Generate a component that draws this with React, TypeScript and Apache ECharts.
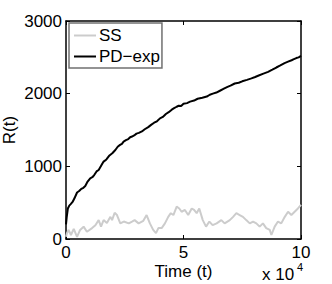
import React, { useEffect, useRef } from "react";
import * as echarts from "echarts";

const tSS = [0, 0.04, 0.11, 0.21, 0.33, 0.47, 0.6, 0.75, 0.89, 1.11, 1.25, 1.39, 1.49, 1.6, 1.74, 1.89, 1.96, 2.07, 2.17, 2.31, 2.46, 2.67, 2.81, 2.92, 3.09, 3.29, 3.43, 3.57, 3.71, 3.83, 3.93, 4.07, 4.21, 4.35, 4.46, 4.57, 4.71, 4.82, 4.92, 5.06, 5.2, 5.35, 5.45, 5.56, 5.67, 5.82, 5.96, 6.1, 6.24, 6.41, 6.61, 6.75, 6.97, 7.11, 7.25, 7.39, 7.53, 7.67, 7.82, 7.96, 8.1, 8.24, 8.38, 8.52, 8.67, 8.74, 8.88, 9.02, 9.16, 9.31, 9.45, 9.59, 9.73, 9.87, 10];
const ssValues = [30, 80, 125, 55, 140, 30, 125, 170, 100, 150, 190, 260, 170, 260, 220, 305, 260, 360, 330, 215, 240, 215, 240, 260, 215, 250, 330, 215, 125, 80, 150, 150, 215, 305, 355, 330, 445, 420, 375, 400, 330, 420, 400, 355, 420, 260, 170, 240, 190, 215, 260, 215, 260, 305, 355, 330, 305, 260, 215, 240, 215, 170, 215, 150, 125, 55, 170, 240, 215, 305, 375, 330, 375, 420, 470];

const tPD = [0, 0.03, 0.08, 0.14, 0.2, 0.28, 0.36, 0.47, 0.56, 0.65, 0.74, 0.82, 0.92, 1.03, 1.12, 1.2, 1.3, 1.39, 1.5, 1.6, 1.72, 1.85, 1.97, 2.1, 2.2, 2.3, 2.38, 2.45, 2.55, 2.65, 2.73, 2.81, 2.9, 3.0, 3.1, 3.23, 3.35, 3.5, 3.62, 3.75, 3.87, 4.0, 4.12, 4.25, 4.37, 4.5, 4.6, 4.71, 4.8, 4.9, 5.0, 5.15, 5.28, 5.45, 5.6, 5.8, 5.99, 6.12, 6.25, 6.4, 6.55, 6.7, 6.85, 7.0, 7.18, 7.35, 7.5, 7.7, 7.89, 8.05, 8.2, 8.4, 8.6, 8.78, 8.95, 9.1, 9.3, 9.45, 9.6, 9.7, 9.8, 9.9, 10];
const pdValues = [200, 300, 420, 460, 480, 510, 560, 640, 660, 690, 705, 730, 790, 835, 850, 880, 930, 950, 1010, 1065, 1095, 1150, 1180, 1225, 1270, 1295, 1310, 1340, 1360, 1375, 1400, 1410, 1425, 1450, 1460, 1480, 1510, 1540, 1570, 1600, 1620, 1660, 1680, 1720, 1745, 1780, 1800, 1820, 1835, 1830, 1860, 1870, 1890, 1905, 1930, 1945, 1960, 1985, 2000, 2015, 2040, 2065, 2090, 2110, 2140, 2150, 2170, 2190, 2210, 2230, 2250, 2275, 2300, 2330, 2360, 2385, 2420, 2440, 2460, 2475, 2490, 2500, 2520];

const seriesNames = ["SS", "PD\u2212exp"];
const xTickLabels = ["0", "5", "10"];
const yTickLabels = ["0", "1000", "2000", "3000"];
const FONT = "'Liberation Sans', Arial, Helvetica, sans-serif";

export default function App() {
  const ref = useRef<HTMLDivElement>(null);
  useEffect(() => {
    if (!ref.current) return;
    const chart = echarts.init(ref.current, null, { renderer: "svg" });
    const axisLine = { show: true, onZero: false, lineStyle: { color: "#000", width: 1.5 } };
    const tick = { show: true, inside: true, length: 4, lineStyle: { color: "#000", width: 1 } };
    chart.setOption({
      animation: false,
      backgroundColor: "#fff",
      textStyle: { fontFamily: FONT },
      grid: { left: 66, top: 21, width: 235, height: 218, containLabel: false, outerBoundsMode: "none" },
      legend: {
        orient: "vertical",
        left: 69,
        top: 23,
        z: 10,
        backgroundColor: "#ffffff",
        borderColor: "#707070",
        borderWidth: 1.5,
        borderRadius: 0,
        padding: [4, 2, 3, 5],
        itemGap: 4,
        itemWidth: 22,
        itemHeight: 2,
        icon: "rect",
        textStyle: { fontFamily: FONT, fontSize: 17, color: "#000", padding: [0, 0, 0, -2] },
        data: seriesNames,
      },
      xAxis: [
        {
          type: "value",
          min: 0,
          max: 10,
          interval: 5,
          position: "bottom",
          axisLine,
          axisTick: tick,
          splitLine: { show: false },
          axisLabel: {
            color: "#000",
            fontSize: 17,
            fontFamily: FONT,
            margin: 5,
            formatter: (v: number) => xTickLabels[Math.round(v / 5)] ?? String(v),
          },
          name: "Time (t)",
          nameLocation: "middle",
          nameGap: 24,
          nameMoveOverlap: false,
          nameTextStyle: { color: "#000", fontSize: 17, fontFamily: FONT },
        },
        {
          type: "value",
          min: 0,
          max: 10,
          interval: 5,
          position: "top",
          axisLine,
          axisTick: tick,
          splitLine: { show: false },
          axisLabel: { show: false },
        },
      ],
      yAxis: [
        {
          type: "value",
          min: 0,
          max: 3000,
          interval: 1000,
          position: "left",
          axisLine,
          axisTick: tick,
          splitLine: { show: false },
          axisLabel: {
            color: "#000",
            fontSize: 17,
            fontFamily: FONT,
            margin: 4,
            formatter: (v: number) => yTickLabels[Math.round(v / 1000)] ?? String(v),
          },
          name: "R(t)",
          nameLocation: "middle",
          nameGap: 48,
          nameMoveOverlap: false,
          nameTextStyle: { color: "#000", fontSize: 17, fontFamily: FONT },
        },
        {
          type: "value",
          min: 0,
          max: 3000,
          interval: 1000,
          position: "right",
          axisLine,
          axisTick: tick,
          splitLine: { show: false },
          axisLabel: { show: false },
        },
      ],
      series: [
        {
          name: seriesNames[0],
          type: "line",
          showSymbol: false,
          symbol: "none",
          data: tSS.map((t, i) => [t, ssValues[i]]),
          lineStyle: { color: "#cccccc", width: 2 },
          itemStyle: { color: "#cccccc" },
          z: 2,
        },
        {
          name: seriesNames[1],
          type: "line",
          showSymbol: false,
          symbol: "none",
          data: tPD.map((t, i) => [t, pdValues[i]]),
          lineStyle: { color: "#000", width: 2 },
          itemStyle: { color: "#000" },
          z: 3,
        },
      ],
      graphic: {
        elements: [
          {
            type: "text",
            left: 262,
            top: 266,
            style: { text: "x 10", fontSize: 17, fontFamily: FONT, fill: "#000" },
          },
          {
            type: "text",
            left: 297,
            top: 261,
            style: { text: "4", fontSize: 11, fontFamily: FONT, fill: "#000" },
          },
        ],
      },
    });
    return () => chart.dispose();
  }, []);
  return (
    <div
      ref={ref}
      style={{ position: "fixed", left: 0, top: 0, width: 332, height: 284, background: "#fff" }}
    />
  );
}
